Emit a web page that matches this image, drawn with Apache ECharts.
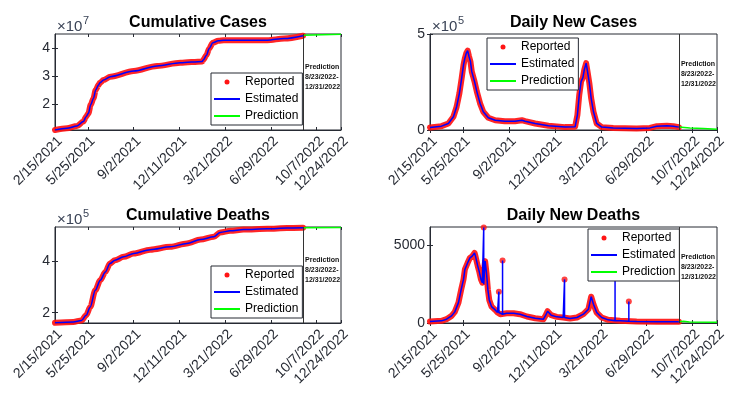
<!DOCTYPE html>
<html>
<head>
<meta charset="utf-8">
<script src="https://cdn.jsdelivr.net/npm/echarts@6/dist/echarts.min.js"></script>
<style>
  html, body { margin: 0; padding: 0; background: #fff; }
  #chart { width: 738px; height: 399px; }
</style>
</head>
<body>
<div id="chart"></div>
<script>
// x = days from the left edge of each panel, ticks carry the date labels
const dateTicks = [0, 72, 172, 272, 372, 472, 572, 625];
const dateLabels = ['2/15/2021', '5/25/2021', '9/2/2021', '12/11/2021', '3/21/2022', '6/29/2022', '10/7/2022', '12/24/2022'];
const predictionStart = 542;
const predictionNote = ['Prediction', '8/23/2022-', '12/31/2022'];

const cumCases = [[0, 1.09e7], [26, 1.15e7], [48, 1.23e7], [62, 1.39e7], [68, 1.56e7], [73, 1.68e7], [78, 1.98e7],
  [84, 2.21e7], [89, 2.51e7], [95, 2.68e7], [98, 2.76e7], [106, 2.86e7], [121, 2.98e7], [172, 3.18e7], [223, 3.36e7],
  [274, 3.47e7], [322, 3.52e7], [324, 3.57e7], [331, 3.74e7], [337, 3.98e7], [345, 4.18e7], [357, 4.25e7],
  [369, 4.27e7], [464, 4.27e7], [501, 4.33e7], [542, 4.43e7]];
const cumCasesPred = [[542, 4.45e7], [625, 4.48e7]];

const dailyCases = [[0, 0.13e5], [25, 0.20e5], [40, 0.34e5], [51, 0.69e5], [58, 1.21e5], [64, 1.91e5], [69, 2.70e5],
  [73, 3.39e5], [76, 3.74e5], [79, 4.00e5], [82, 4.13e5], [85, 3.83e5], [88, 3.57e5], [91, 3.04e5], [97, 2.52e5],
  [102, 2.00e5], [109, 1.39e5], [116, 0.95e5], [127, 0.64e5], [142, 0.51e5], [163, 0.46e5], [185, 0.46e5],
  [200, 0.51e5], [207, 0.46e5], [229, 0.34e5], [258, 0.22e5], [294, 0.15e5], [316, 0.17e5], [321, 0.78e5],
  [325, 1.82e5], [329, 2.52e5], [333, 2.73e5], [336, 3.13e5], [340, 3.48e5], [343, 3.05e5], [347, 2.44e5],
  [351, 1.65e5], [356, 0.95e5], [363, 0.34e5], [374, 0.15e5], [399, 0.10e5], [450, 0.08e5], [479, 0.11e5],
  [494, 0.20e5], [516, 0.22e5], [530, 0.20e5], [542, 0.15e5]];
const dailyCasesPred = [[542, 0.15e5], [566, 0.10e5], [595, 0.08e5], [625, 0.04e5]];

const cumDeaths = [[0, 1.61e5], [40, 1.64e5], [58, 1.70e5], [68, 1.90e5], [77, 2.22e5], [88, 2.87e5], [99, 3.26e5],
  [110, 3.58e5], [120, 3.91e5], [131, 4.04e5], [150, 4.17e5], [172, 4.30e5], [208, 4.45e5], [252, 4.56e5],
  [288, 4.69e5], [318, 4.84e5], [347, 4.95e5], [361, 5.12e5], [383, 5.18e5], [412, 5.23e5], [464, 5.26e5],
  [507, 5.29e5], [542, 5.30e5]];
const cumDeathsPred = [[542, 5.30e5], [625, 5.31e5]];

const dailyDeaths = [[0, 96], [25, 139], [36, 246], [47, 460], [54, 717], [62, 1317], [68, 2174], [73, 2817],
  [76, 3460], [82, 3888], [87, 4209], [92, 4316], [97, 4530], [99, 4316], [104, 3674], [107, 3352], [111, 2817],
  [114, 2603], [120, 3995], [123, 3245], [126, 2174], [129, 1489], [134, 1060], [142, 846], [147, 675], [153, 568],
  [167, 632], [182, 632], [196, 568], [211, 418], [229, 311], [247, 246], [252, 503], [256, 760], [264, 503],
  [276, 396], [290, 353], [305, 289], [320, 353], [334, 568], [345, 889], [351, 1700], [356, 1210], [363, 675],
  [374, 353], [388, 203], [414, 139], [450, 96], [494, 75], [542, 75]];
// one-day spikes: [x, foot, peak]
const dailyDeathSpikes = [[117, 2500, 6160], [150, 675, 2024], [158, 568, 4037], [293, 353, 2817], [403, 139, 3600], [433, 118, 1381]];
const dailyDeathsPred = [[542, 75], [552, 110], [565, 70], [625, 45]];

const FONT = 'Liberation Sans, Arial, Helvetica, sans-serif';
const AX = '#262a33';

// estimated curve for deaths = reported curve with the spikes drawn as vertical strokes
const spikeRows = [];
dailyDeathSpikes.forEach(([x, foot, peak]) => spikeRows.push([x, foot], [x, peak], [x, foot]));
const dailyDeathsEst = dailyDeaths.concat(spikeRows).sort((a, b) => a[0] - b[0]);

const panels = [
  { title: 'Cumulative Cases', grid: { left: 55, top: 34, width: 286, height: 96 },
    yMin: 1.09e7, yMax: 4.49e7, yTicks: [2e7, 3e7, 4e7], scale: 1e7, exp: '7',
    reported: cumCases, estimated: cumCases, prediction: cumCasesPred, smooth: true,
    legend: { left: 211, top: 73 } },
  { title: 'Daily New Cases', grid: { left: 430, top: 34, width: 287, height: 96 },
    yMin: 0, yMax: 5e5, yTicks: [0, 5e5], scale: 1e5, exp: '5',
    reported: dailyCases, estimated: dailyCases, prediction: dailyCasesPred, smooth: false,
    legend: { left: 487, top: 38 } },
  { title: 'Cumulative Deaths', grid: { left: 55, top: 227, width: 286, height: 96 },
    yMin: 1.6e5, yMax: 5.33e5, yTicks: [2e5, 4e5], scale: 1e5, exp: '5',
    reported: cumDeaths, estimated: cumDeaths, prediction: cumDeathsPred, smooth: true,
    legend: { left: 211, top: 266 } },
  { title: 'Daily New Deaths', grid: { left: 430, top: 227, width: 287, height: 96 },
    yMin: 0, yMax: 6200, yTicks: [0, 5000], scale: 1, exp: null,
    reported: dailyDeaths, estimated: dailyDeathsEst, prediction: dailyDeathsPred, smooth: false,
    spikes: dailyDeathSpikes.map(s => [s[0], s[2]]),
    legend: { left: 588, top: 229 } }
];

const dotIcon = 'path://M0,0M26,14M10.5,7a2.5,2.5 0 1 0 5,0a2.5,2.5 0 1 0 -5,0Z';
const lineIcon = 'path://M0,0M26,14M0,6H26V8H0Z';

const grids = [], xAxes = [], yAxes = [], series = [], legends = [], graphics = [];
panels.forEach((p, i) => {
  grids.push(Object.assign({ show: true, borderColor: AX, borderWidth: 1, backgroundColor: '#fff' }, p.grid));
  const tick = { show: true, inside: true, length: 3, lineStyle: { color: AX, width: 1 } };
  xAxes.push({
    type: 'value', gridIndex: i, min: 0, max: 625, position: 'bottom',
    axisLine: { show: true, lineStyle: { color: AX } },
    axisTick: Object.assign({ customValues: dateTicks }, tick),
    axisLabel: { customValues: dateTicks, rotate: 45, margin: 4, fontSize: 14, fontFamily: FONT, color: AX,
      align: 'right', verticalAlign: 'top',
      formatter: v => dateLabels[dateTicks.indexOf(v)] },
    splitLine: { show: false }
  });
  xAxes.push({
    type: 'value', gridIndex: i, min: 0, max: 625, position: 'top',
    axisLine: { show: false }, axisTick: Object.assign({ customValues: dateTicks }, tick),
    axisLabel: { show: false }, splitLine: { show: false }
  });
  yAxes.push({
    type: 'value', gridIndex: i, min: p.yMin, max: p.yMax, position: 'left',
    axisLine: { show: true, lineStyle: { color: AX } },
    axisTick: Object.assign({ customValues: p.yTicks }, tick),
    axisLabel: { customValues: p.yTicks, margin: 5, fontSize: 14, fontFamily: FONT, color: AX,
      formatter: v => String(Math.round(v / p.scale)) },
    splitLine: { show: false }
  });
  yAxes.push({
    type: 'value', gridIndex: i, min: p.yMin, max: p.yMax, position: 'right',
    axisLine: { show: false }, axisTick: Object.assign({ customValues: p.yTicks }, tick),
    axisLabel: { show: false }, splitLine: { show: false }
  });
  const ax = { xAxisIndex: 2 * i, yAxisIndex: 2 * i };
  series.push(Object.assign({
    name: 'Reported', type: 'line', data: p.reported, symbol: 'none', z: 2,
    smooth: p.smooth ? 0.3 : false, smoothMonotone: 'x',
    itemStyle: { color: '#ff0000' },
    lineStyle: { color: '#ff1414', width: 6, cap: 'round', join: 'round', opacity: 0.92 }
  }, ax));
  if (p.spikes) {
    series.push(Object.assign({
      name: 'Reported', type: 'scatter', data: p.spikes, symbolSize: 6, z: 2,
      itemStyle: { color: '#ff1414' }
    }, ax));
  }
  series.push(Object.assign({
    name: 'Estimated', type: 'line', data: p.estimated, symbol: 'none', z: 3,
    smooth: p.smooth ? 0.3 : false, smoothMonotone: 'x',
    itemStyle: { color: '#0000ff' }, lineStyle: { color: '#0000ff', width: 1.5 },
    markLine: { silent: true, symbol: 'none', label: { show: false },
      lineStyle: { color: '#333', width: 1, type: 'solid' }, data: [{ xAxis: predictionStart }] }
  }, ax));
  series.push(Object.assign({
    name: 'Prediction', type: 'line', data: p.prediction, symbol: 'none', z: 3,
    itemStyle: { color: '#00ff00' }, lineStyle: { color: '#00ff00', width: 1.5 }
  }, ax));

  legends.push({
    orient: 'vertical', left: p.legend.left, top: p.legend.top, selectedMode: false,
    backgroundColor: '#fff', borderColor: AX, borderWidth: 1, padding: [2, 4, 2, 3],
    itemWidth: 26, itemHeight: 14, itemGap: 3,
    textStyle: { fontSize: 12, fontFamily: FONT, color: '#000' },
    data: [
      { name: 'Reported', icon: dotIcon, itemStyle: { color: '#ff1414', borderWidth: 0 } },
      { name: 'Estimated', icon: lineIcon, itemStyle: { color: '#0000ff', borderWidth: 0 } },
      { name: 'Prediction', icon: lineIcon, itemStyle: { color: '#00ff00', borderWidth: 0 } }
    ]
  });

  const g = p.grid;
  graphics.push({
    type: 'text', x: g.left + g.width / 2, y: g.top - 11,
    style: { text: p.title, font: 'bold 16px ' + FONT, fill: '#000',
      textAlign: 'center', textVerticalAlign: 'middle', align: 'center', verticalAlign: 'middle' }
  });
  if (p.exp) {
    graphics.push({
      type: 'text', x: g.left + 2, y: g.top - 7,
      style: { text: '×10', font: '15px ' + FONT, fill: '#3a4356',
        textAlign: 'left', textVerticalAlign: 'middle', align: 'left', verticalAlign: 'middle' }
    });
    graphics.push({
      type: 'text', x: g.left + 28, y: g.top - 13,
      style: { text: p.exp, font: '11px ' + FONT, fill: '#3a4356',
        textAlign: 'left', textVerticalAlign: 'middle', align: 'left', verticalAlign: 'middle' }
    });
  }
  const px = g.left + g.width * predictionStart / 625 + 2;
  graphics.push({
    type: 'text', x: px, y: g.top + (i % 2 === 0 ? 28 : 25),
    style: { text: predictionNote.join('\n'), font: 'bold 7px ' + FONT, fill: '#111', lineHeight: 10,
      textAlign: 'left', textVerticalAlign: 'top', align: 'left', verticalAlign: 'top' }
  });
});

const chart = echarts.init(document.getElementById('chart'));
chart.setOption({
  animation: false,
  backgroundColor: '#fff',
  grid: grids,
  xAxis: xAxes,
  yAxis: yAxes,
  legend: legends,
  series: series,
  graphic: graphics
});
</script>
</body>
</html>
